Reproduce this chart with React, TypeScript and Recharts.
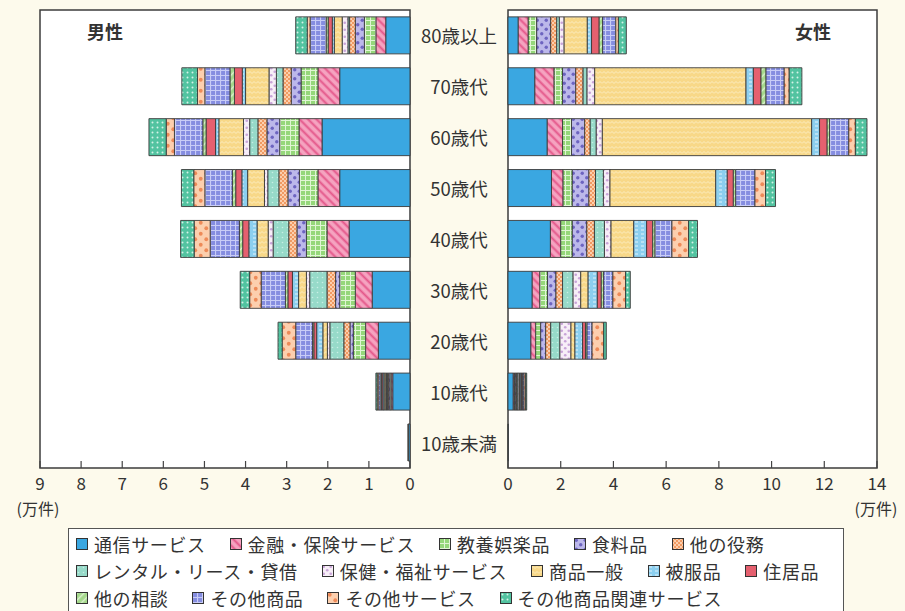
import React from 'react'
import { BarChart, Bar, XAxis, YAxis, CartesianGrid, ReferenceArea, Legend } from 'recharts'

const FONT = '"Noto Sans CJK JP", "Noto Sans", sans-serif'

const ages = ['80歳以上', '70歳代', '60歳代', '50歳代', '40歳代', '30歳代', '20歳代', '10歳代', '10歳未満']

const seriesNames = [
  '通信サービス', '金融・保険サービス', '教養娯楽品', '食料品', '他の役務',
  'レンタル・リース・貸借', '保健・福祉サービス', '商品一般', '被服品', '住居品',
  '他の相談', 'その他商品', 'その他サービス', 'その他商品関連サービス',
]
const seriesKeys = ['comm', 'fin', 'edu', 'food', 'svc', 'rent', 'health', 'gen', 'cloth', 'house', 'cons', 'othG', 'othS', 'othR']

// 男性（万件）, order follows ages
const mComm = [0.59, 1.71, 2.14, 1.71, 1.48, 0.92, 0.77, 0.42, 0.04]
const mFin = [0.24, 0.53, 0.56, 0.53, 0.54, 0.41, 0.31, 0.04, 0]
const mEdu = [0.28, 0.41, 0.47, 0.45, 0.5, 0.38, 0.3, 0.03, 0]
const mFood = [0.22, 0.24, 0.31, 0.28, 0.23, 0.1, 0.08, 0.03, 0]
const mSvc = [0.14, 0.2, 0.22, 0.22, 0.2, 0.21, 0.15, 0.03, 0]
const mRent = [0.04, 0.16, 0.2, 0.27, 0.38, 0.42, 0.34, 0.02, 0]
const mHealth = [0.14, 0.18, 0.15, 0.08, 0.12, 0.08, 0.06, 0.02, 0]
const mGen = [0.19, 0.57, 0.6, 0.41, 0.27, 0.19, 0.11, 0.04, 0.01]
const mCloth = [0.05, 0.08, 0.08, 0.14, 0.2, 0.15, 0.15, 0.03, 0]
const mHouse = [0.1, 0.19, 0.23, 0.15, 0.15, 0.11, 0.07, 0.03, 0]
const mCons = [0.05, 0.11, 0.08, 0.08, 0.08, 0.06, 0.03, 0.02, 0]
const mOthG = [0.39, 0.61, 0.69, 0.67, 0.71, 0.59, 0.41, 0.05, 0]
const mOthS = [0.07, 0.18, 0.2, 0.27, 0.39, 0.28, 0.33, 0.04, 0]
const mOthR = [0.28, 0.38, 0.42, 0.3, 0.33, 0.23, 0.1, 0.03, 0]

// 女性（万件）
const fComm = [0.39, 1.02, 1.49, 1.65, 1.61, 0.92, 0.87, 0.2, 0.01]
const fFin = [0.38, 0.73, 0.58, 0.44, 0.39, 0.29, 0.18, 0.04, 0]
const fEdu = [0.32, 0.32, 0.34, 0.35, 0.44, 0.29, 0.19, 0.03, 0]
const fFood = [0.53, 0.5, 0.5, 0.63, 0.55, 0.32, 0.19, 0.04, 0]
const fSvc = [0.23, 0.28, 0.21, 0.25, 0.29, 0.25, 0.19, 0.03, 0]
const fRent = [0.1, 0.15, 0.23, 0.3, 0.38, 0.4, 0.35, 0.04, 0]
const fHealth = [0.18, 0.29, 0.23, 0.25, 0.25, 0.29, 0.42, 0.05, 0]
const fGen = [0.88, 5.74, 7.94, 4.01, 0.86, 0.28, 0.15, 0.03, 0]
const fCloth = [0.16, 0.28, 0.3, 0.44, 0.49, 0.35, 0.29, 0.04, 0]
const fHouse = [0.29, 0.29, 0.29, 0.23, 0.23, 0.15, 0.11, 0.03, 0]
const fCons = [0.13, 0.19, 0.09, 0.09, 0.09, 0.09, 0.06, 0.03, 0]
const fOthG = [0.5, 0.69, 0.73, 0.73, 0.64, 0.35, 0.19, 0.05, 0]
const fOthS = [0.1, 0.19, 0.25, 0.4, 0.63, 0.48, 0.44, 0.06, 0]
const fOthR = [0.3, 0.48, 0.44, 0.38, 0.34, 0.18, 0.1, 0.04, 0]

const maleSeries = [mComm, mFin, mEdu, mFood, mSvc, mRent, mHealth, mGen, mCloth, mHouse, mCons, mOthG, mOthS, mOthR]
const femaleSeries = [fComm, fFin, fEdu, fFood, fSvc, fRent, fHealth, fGen, fCloth, fHouse, fCons, fOthG, fOthS, fOthR]

const maleTicks = [0, 1, 2, 3, 4, 5, 6, 7, 8, 9]
const femaleTicks = [0, 2, 4, 6, 8, 10, 12, 14]
const rowBoundaries = [1, 2, 3, 4, 5, 6, 7, 8]
const legendRows = [5, 5, 4]

function buildRows(series: number[][]) {
  return ages.map((age, i) => {
    const row: Record<string, string | number> = { age }
    seriesKeys.forEach((k, s) => {
      row[k] = series[s][i]
    })
    return row
  })
}

const maleRows = buildRows(maleSeries)
const femaleRows = buildRows(femaleSeries)

const solidFills: Record<string, string> = { comm: '#3aa7e1', house: '#e5606f' }
const fillFor = (p: string, k: string) => solidFills[k] ?? `url(#${p}-${k})`

const patternDefs = (p: string) => (
  <defs>
    <pattern id={`${p}-fin`} width={6} height={6} patternUnits="userSpaceOnUse" patternTransform="rotate(-45)">
      <rect width={6} height={6} fill="#f5a3c0" />
      <line x1={1.5} y1={0} x2={1.5} y2={6} stroke="#e4578a" strokeWidth={2} />
    </pattern>
    <pattern id={`${p}-edu`} width={5} height={5} patternUnits="userSpaceOnUse">
      <rect width={5} height={5} fill="#95d77a" />
      <path d="M0 0.5H5M0.5 0V5" stroke="#e0f5d4" strokeWidth={1} />
    </pattern>
    <pattern id={`${p}-food`} width={9} height={9} patternUnits="userSpaceOnUse">
      <rect width={9} height={9} fill="#bcb8ea" />
      <circle cx={2.25} cy={2.25} r={1.7} fill="#6d64c0" />
      <circle cx={6.75} cy={6.75} r={1.7} fill="#6d64c0" />
    </pattern>
    <pattern id={`${p}-svc`} width={4} height={4} patternUnits="userSpaceOnUse">
      <rect width={4} height={4} fill="#f19a62" />
      <rect width={2} height={2} fill="#fbcfae" />
      <rect x={2} y={2} width={2} height={2} fill="#fbcfae" />
    </pattern>
    <pattern id={`${p}-rent`} width={5} height={5} patternUnits="userSpaceOnUse">
      <rect width={5} height={5} fill="#97dac9" />
      <circle cx={2.5} cy={2.5} r={0.8} fill="#c8eee4" />
    </pattern>
    <pattern id={`${p}-health`} width={7} height={7} patternUnits="userSpaceOnUse">
      <rect width={7} height={7} fill="#f7eef7" />
      <circle cx={1.75} cy={1.75} r={1.3} fill="#c8a3d8" />
      <circle cx={5.25} cy={5.25} r={1.3} fill="#c8a3d8" />
    </pattern>
    <pattern id={`${p}-gen`} width={8} height={5} patternUnits="userSpaceOnUse">
      <rect width={8} height={5} fill="#f8d888" />
      <path d="M0 3.5L2 1.5L4 3.5L6 1.5L8 3.5" fill="none" stroke="#fcedc0" strokeWidth={1} />
    </pattern>
    <pattern id={`${p}-cloth`} width={6} height={4} patternUnits="userSpaceOnUse">
      <rect width={6} height={4} fill="#8ccfef" />
      <path d="M1 2H4" stroke="#e2f4fc" strokeWidth={1} />
    </pattern>
    <pattern id={`${p}-cons`} width={5} height={5} patternUnits="userSpaceOnUse" patternTransform="rotate(45)">
      <rect width={5} height={5} fill="#a3d88a" />
      <line x1={1.5} y1={0} x2={1.5} y2={5} stroke="#dbf1cf" strokeWidth={1.5} />
    </pattern>
    <pattern id={`${p}-othG`} width={5} height={5} patternUnits="userSpaceOnUse">
      <rect width={5} height={5} fill="#858de0" />
      <path d="M0 0.5H5M0.5 0V5" stroke="#c8ccf6" strokeWidth={1.2} />
    </pattern>
    <pattern id={`${p}-othS`} width={11} height={11} patternUnits="userSpaceOnUse">
      <rect width={11} height={11} fill="#fccfae" />
      <circle cx={2.75} cy={2.75} r={1.9} fill="#ee8a58" />
      <circle cx={8.25} cy={8.25} r={1.9} fill="#ee8a58" />
    </pattern>
    <pattern id={`${p}-othR`} width={5} height={5} patternUnits="userSpaceOnUse">
      <rect width={5} height={5} fill="#52c3a0" />
      <circle cx={2.5} cy={2.5} r={1} fill="#d4f3e8" />
    </pattern>
  </defs>
)

const renderXTick = (props: any) => {
  const { x, y, payload } = props
  return (
    <g>
      <line x1={x} x2={x} y1={y} y2={y - 7} stroke="#444" strokeWidth={1.2} />
      <text x={x} y={y + 22} textAnchor="middle" fontSize={17} fill="#333">
        {payload.value}
      </text>
    </g>
  )
}

const renderAgeTick = (props: any) => {
  const { x, y, payload } = props
  return (
    <text x={x + 49} y={y} textAnchor="middle" dominantBaseline="central" fontSize={18.5} fill="#333">
      {payload.value}
    </text>
  )
}

const renderLegend = (props: any) => {
  const items = [...(props.payload || [])].sort(
    (a: any, b: any) => seriesNames.indexOf(a.value) - seriesNames.indexOf(b.value),
  )
  let start = 0
  const rows = legendRows.map((n) => {
    const r = items.slice(start, start + n)
    start += n
    return r
  })
  return (
    <div
      style={{
        borderTop: '1px solid #555',
        borderLeft: '1px solid #555',
        borderRight: '1px solid #555',
        background: '#fff',
        padding: '1px 0 0 7px',
        height: 83,
        boxSizing: 'border-box',
        fontFamily: FONT,
        fontSize: 18,
        lineHeight: '20px',
        letterSpacing: 0.6,
        color: '#333',
      }}
    >
      {rows.map((r, i) => (
        <div key={i} style={{ display: 'flex', alignItems: 'center', height: 27, whiteSpace: 'nowrap' }}>
          {r.map((e: any) => (
            <span key={e.value} style={{ display: 'inline-flex', alignItems: 'center', marginRight: 24 }}>
              <svg width={12} height={12} style={{ marginRight: 6 }}>
                <rect x={0.5} y={0.5} width={11} height={11} fill={e.color} stroke="#333" />
              </svg>
              {e.value}
            </span>
          ))}
        </div>
      ))}
    </div>
  )
}

const bars = (p: string) =>
  seriesKeys.map((k, s) => (
    <Bar
      key={k}
      dataKey={k}
      name={seriesNames[s]}
      stackId="a"
      fill={fillFor(p, k)}
      stroke="#3a3a3a"
      strokeWidth={0.9}
      isAnimationActive={false}
    />
  ))

export default function App() {
  return (
    <div
      style={{
        position: 'absolute',
        left: 0,
        top: 0,
        width: 905,
        height: 611,
        background: '#fdfaec',
        overflow: 'hidden',
        fontFamily: FONT,
      }}
    >
      <div style={{ position: 'absolute', left: 490, top: 0 }}>
        <BarChart
          width={415}
          height={611}
          data={femaleRows}
          layout="vertical"
          margin={{ top: 10, right: 28, bottom: 103, left: 18 }}
          barCategoryGap="13.5%"
        >
          {patternDefs('f')}
          <CartesianGrid horizontal={false} vertical={false} fill="#ffffff" />
          <XAxis
            type="number"
            domain={[0, 14]}
            ticks={femaleTicks}
            height={40}
            axisLine={false}
            tickLine={false}
            tickSize={0}
            tickMargin={0}
            interval={0}
            tick={renderXTick}
          />
          <YAxis type="category" dataKey="age" hide />
          <YAxis
            yAxisId="sep"
            type="number"
            domain={[0, 9]}
            ticks={rowBoundaries}
            orientation="left"
            mirror
            axisLine={false}
            tick={false}
            tickSize={7}
            tickLine={{ stroke: '#444', strokeWidth: 1.5 }}
          />
          {bars('f')}
          <ReferenceArea x1={0} x2={14} fill="none" stroke="#3d3d3d" strokeWidth={1.5} />
          <text x={323} y={39} textAnchor="middle" fontSize={18} fontWeight="bold" fill="#333">
            女性
          </text>
          <text x={386} y={515} textAnchor="middle" fontSize={16} fill="#333">
            (万件)
          </text>
        </BarChart>
      </div>
      <div style={{ position: 'absolute', left: 0, top: 0 }}>
        <BarChart
          width={508}
          height={611}
          data={maleRows}
          layout="vertical"
          margin={{ top: 10, right: 0, bottom: 103, left: 40 }}
          barCategoryGap="13.5%"
        >
          {patternDefs('m')}
          <CartesianGrid horizontal={false} vertical={false} fill="#ffffff" />
          <XAxis
            type="number"
            domain={[0, 9]}
            ticks={maleTicks}
            reversed
            height={40}
            axisLine={false}
            tickLine={false}
            tickSize={0}
            tickMargin={0}
            interval={0}
            tick={renderXTick}
          />
          <YAxis
            type="category"
            dataKey="age"
            orientation="right"
            width={98}
            axisLine={false}
            tickLine={false}
            tickSize={0}
            tickMargin={0}
            interval={0}
            tick={renderAgeTick}
          />
          <YAxis
            yAxisId="sep"
            type="number"
            domain={[0, 9]}
            ticks={rowBoundaries}
            orientation="right"
            mirror
            axisLine={false}
            tick={false}
            tickSize={7}
            tickLine={{ stroke: '#444', strokeWidth: 1.5 }}
          />
          {bars('m')}
          <ReferenceArea x1={0} x2={9} fill="none" stroke="#3d3d3d" strokeWidth={1.5} />
          <Legend
            layout="horizontal"
            verticalAlign="middle"
            align="center"
            wrapperStyle={{ top: 528, left: 68, width: 776, height: 83, zIndex: 5 }}
            content={renderLegend}
          />
          <text x={105} y={39} textAnchor="middle" fontSize={18} fontWeight="bold" fill="#333">
            男性
          </text>
          <text x={38} y={515} textAnchor="middle" fontSize={16} fill="#333">
            (万件)
          </text>
        </BarChart>
      </div>
    </div>
  )
}
